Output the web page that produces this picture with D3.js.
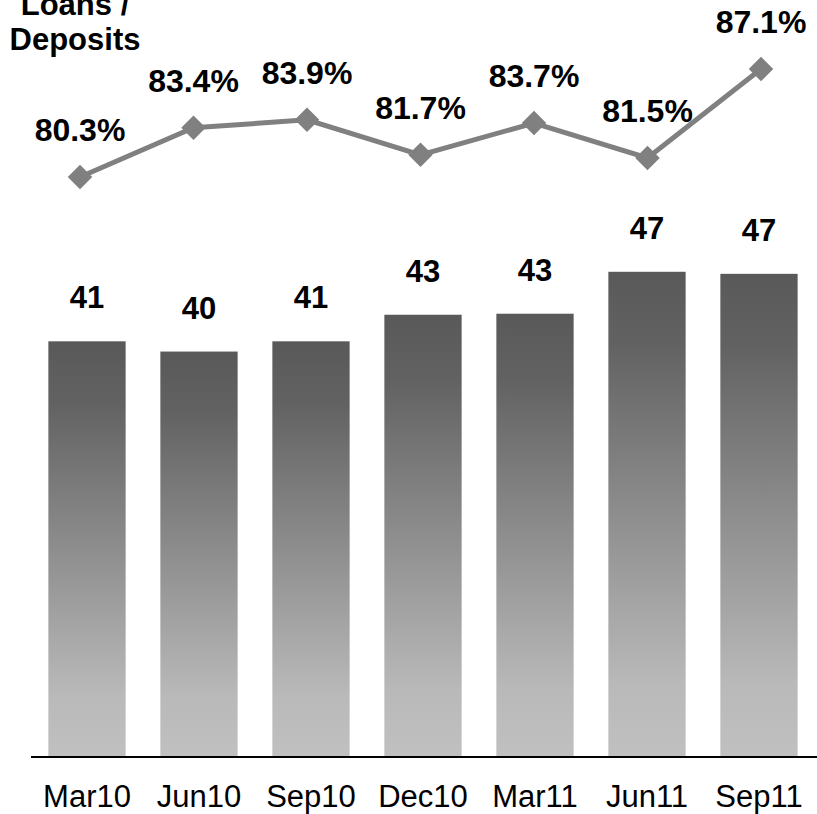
<!DOCTYPE html>
<html>
<head>
<meta charset="utf-8">
<script src="https://cdn.jsdelivr.net/npm/d3@7"></script>
<style>
html,body{margin:0;padding:0;background:#fff;}
text{font-family:"Liberation Sans", Arial, sans-serif;}
</style>
</head>
<body>
<svg id="chart" width="817" height="814"></svg>
<script>
const categories = ["Mar10","Jun10","Sep10","Dec10","Mar11","Jun11","Sep11"];
const loans = [40.6, 39.6, 40.6, 43.2, 43.3, 47.4, 47.2];
const ratio = [80.3, 83.4, 83.9, 81.7, 83.7, 81.5, 87.1];
const titleLines = ["Loans /", "Deposits"];

const svg = d3.select("#chart");
const baseY = 756.5;

const x = d3.scaleBand().domain(categories).range([31, 815]).paddingInner(0.31).paddingOuter(0.155);
const y = d3.scaleLinear().domain([0, 50]).range([baseY, baseY - 50 * 10.226]);
const xl = d3.scalePoint().domain(categories).range([80, 761]);
const yl = d3.scaleLinear().domain([80, 88]).range([181.8, 54.7]);

const defs = svg.append("defs");
const g = defs.append("linearGradient").attr("id","barGrad").attr("x1",0).attr("y1",0).attr("x2",0).attr("y2",1);
g.append("stop").attr("offset","0%").attr("stop-color","#595959");
g.append("stop").attr("offset","15%").attr("stop-color","#626262");
g.append("stop").attr("offset","85%").attr("stop-color","#b9b9b9");
g.append("stop").attr("offset","100%").attr("stop-color","#c0c0c0");

svg.selectAll("rect.bar").data(categories).enter().append("rect")
  .attr("class","bar")
  .attr("x", d => x(d))
  .attr("width", x.bandwidth())
  .attr("y", (d,i) => y(loans[i]))
  .attr("height", (d,i) => y(0) - y(loans[i]))
  .attr("fill","url(#barGrad)");

svg.selectAll("text.blab").data(categories).enter().append("text")
  .attr("class","blab")
  .attr("x", d => x(d) + x.bandwidth()/2)
  .attr("y", (d,i) => y(loans[i]) - 33)
  .attr("text-anchor","middle")
  .attr("font-size", 31).attr("font-weight","bold").attr("fill","#000")
  .text((d,i) => d3.format(".0f")(loans[i]));

// x axis
const xAxis = d3.axisBottom(x).tickSize(0).tickPadding(28);
const ax = svg.append("g").attr("transform", `translate(0,${baseY})`).call(xAxis);
ax.select(".domain").attr("d", `M31,0.5H817`).attr("stroke","#000").attr("stroke-width",1.8);
ax.selectAll("text").attr("font-size", 31).attr("font-family","'Liberation Sans', Arial, sans-serif").attr("fill","#000");

// line
const line = d3.line().x(d => xl(d)).y((d,i) => yl(ratio[i]));
svg.append("path").datum(categories).attr("d", line)
  .attr("fill","none").attr("stroke","#808080").attr("stroke-width",5);

svg.selectAll("path.dia").data(categories).enter().append("path")
  .attr("class","dia")
  .attr("d", d3.symbol().type(d3.symbolSquare).size(300)())
  .attr("transform", (d,i) => `translate(${xl(d)},${yl(ratio[i])}) rotate(45)`)
  .attr("fill","#808080");

svg.selectAll("text.plab").data(categories).enter().append("text")
  .attr("class","plab")
  .attr("x", d => xl(d))
  .attr("y", (d,i) => yl(ratio[i]) - 36)
  .attr("text-anchor","middle")
  .attr("font-size", 32).attr("font-weight","bold").attr("fill","#000")
  .text((d,i) => d3.format(".1f")(ratio[i]) + "%");

svg.append("text").attr("x",75).attr("y",15).attr("text-anchor","middle")
  .attr("font-size",31).attr("font-weight","bold")
  .selectAll("tspan").data(titleLines).enter().append("tspan")
  .attr("x",75).attr("dy",(d,i)=> i===0 ? 0 : 35).text(d=>d);
</script>
</body>
</html>
